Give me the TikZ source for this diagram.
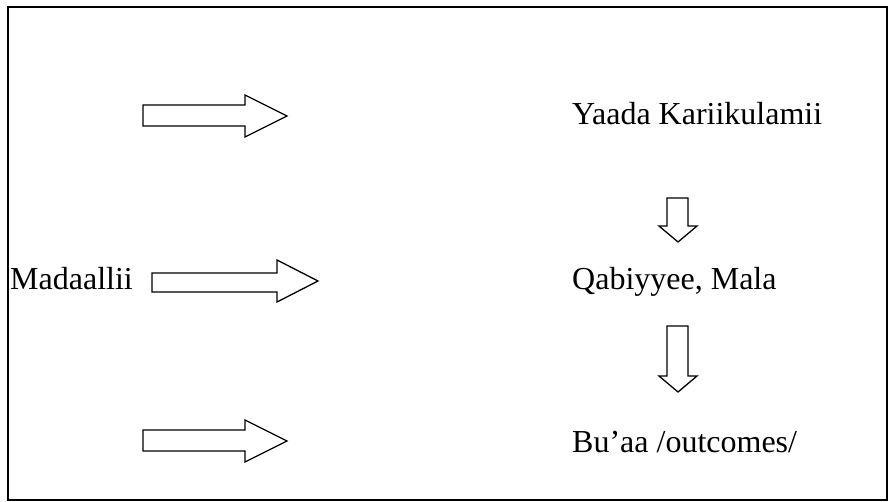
\documentclass[tikz,border=0pt]{standalone}
\usepackage{fontspec}
\setmainfont{Liberation Serif}
\begin{document}
\begin{tikzpicture}[x=1pt,y=-1pt,
  lbl/.style={anchor=base west,inner sep=0pt,font=\fontsize{32}{36}\selectfont},
  blockarrow/.style={draw=black,line width=1.3pt,fill=white,line join=miter},
  frame/.style={draw=black,line width=1.6pt}]
\useasboundingbox (0,0) rectangle (890,502);
\draw[frame] (8,7) rectangle (887,500);
% right-pointing arrows
\draw[blockarrow] (143,105) -- (245,105) -- (245,95) -- (287,116) -- (245,137) -- (245,126) -- (143,126) -- cycle;
\draw[blockarrow] (152,273) -- (277,273) -- (277,260) -- (318,281) -- (277,302) -- (277,292) -- (152,292) -- cycle;
\draw[blockarrow] (143,430) -- (245,430) -- (245,420) -- (287,441) -- (245,462) -- (245,451) -- (143,451) -- cycle;
% down arrows
\draw[blockarrow] (667,198) -- (688,198) -- (688,226) -- (697,226) -- (678,242) -- (659,226) -- (667,226) -- cycle;
\draw[blockarrow] (667,326) -- (688,326) -- (688,376) -- (697,376) -- (678,392) -- (659,376) -- (667,376) -- cycle;
% labels
\node[lbl] (yaada) at (572,125) {Yaada Kariikulamii};
\node[lbl] (qab) at (572,289) {Qabiyyee, Mala};
\node[lbl] (buaa) at (572,452) {Bu’aa /outcomes/};
\node[lbl] (mad) at (10,289) {Madaallii};
\end{tikzpicture}
\end{document}
